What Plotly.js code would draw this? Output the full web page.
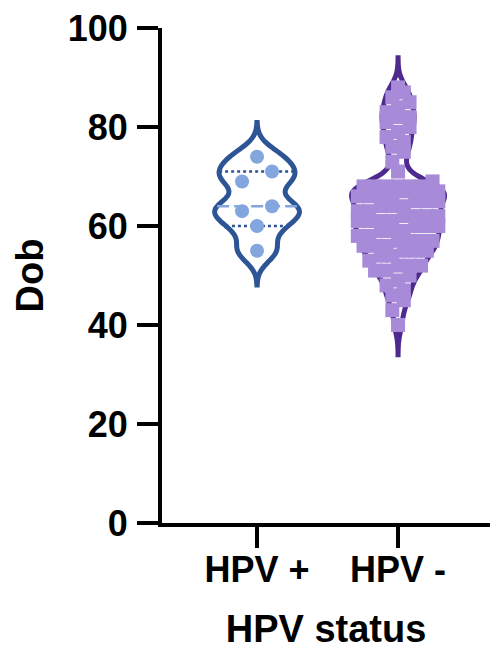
<!DOCTYPE html>
<html><head><meta charset="utf-8">
<script src="https://cdn.plot.ly/plotly-3.0.1.min.js"></script>
<style>html,body{margin:0;padding:0;background:#fff}</style>
</head><body>
<div id="chart" style="width:490px;height:650px"></div>
<script>
// ---------------- data ----------------
const categories = ['HPV +', 'HPV -'];
const yTickVals = [0, 20, 40, 60, 80, 100];
const hpvPosDob = [74, 71, 69, 64, 63, 60, 55];
const hpvNegDob = [
  88, 86, 87, 83, 84, 85, 81, 82, 82, 78, 79, 80, 76, 77, 73, 75, 71,
  68, 68, 68, 68, 68, 68, 69,
  66, 66, 66, 66, 67, 67, 67, 67,
  63, 63, 64, 64, 64, 65, 65, 65,
  61, 61, 61, 61, 62, 62, 62, 62,
  58, 58, 59, 59, 59, 60, 60, 60,
  56, 56, 56, 57, 57, 57, 57,
  53, 54, 54, 55, 55, 55,
  51, 51, 52, 52, 52,
  48, 49, 50,
  46, 47,
  43, 45,
  40
];

// ---------------- style / layout settings ----------------
const W = 490, H = 650;
const M = {l: 162, r: 0, t: 28, b: 127};
const xRange = [-0.674, 1.652];
const yRange = [0, 100];
const FONT = 'Liberation Sans, Arial, Helvetica, sans-serif';

const groups = [
  {vals: hpvPosDob, pos: 0, bw: 2.3, vwidth: 0.6, dark: '#2D5596', light: '#82A6DD',
   symbol: 'circle', msize: 14, spacing: 30, binW: 3, binAnchor: 59.5, medColor: '#82A6DD'},
  {vals: hpvNegDob, pos: 1, bw: 2.0, vwidth: 0.66, dark: '#4E2A8E', light: '#A78BD8',
   symbol: 'square', msize: 14, spacing: 11.5, binW: 2.5, binAnchor: 0.5, medColor: '#4E2A8E'}
];

const plotW = W - M.l - M.r;
const pxPerX = plotW / (xRange[1] - xRange[0]);

function kde(vals, bw, y) {
  let s = 0;
  for (const v of vals) { const z = (y - v) / bw; s += Math.exp(-0.5 * z * z); }
  return s;
}
function quantile(sorted, p) { // GraphPad-like (n+1)p rank
  const n = sorted.length;
  let r = (n + 1) * p;
  if (r < 1) r = 1; if (r > n) r = n;
  const lo = Math.floor(r), hi = Math.ceil(r);
  return sorted[lo - 1] + (r - lo) * (sorted[hi - 1] - sorted[lo - 1]);
}

const traces = [];
const lineTraces = [];
const pointTraces = [];

groups.forEach((g, gi) => {
  const mn = Math.min(...g.vals), mx = Math.max(...g.vals);
  const span = [mn - 3 * g.bw, mx + 3 * g.bw];
  traces.push({
    type: 'violin', x0: g.pos, y: g.vals, name: categories[gi],
    bandwidth: g.bw, spanmode: 'manual', span: span, width: g.vwidth,
    scalemode: 'width', points: false, fillcolor: 'white',
    line: {color: g.dark, width: 5},
    box: {visible: false}, meanline: {visible: false}, hoverinfo: 'y'
  });
  const n = Math.ceil((span[1] - span[0]) / (g.bw / 3));
  const step = (span[1] - span[0]) / n;
  let kmax = 0;
  for (let t = span[0]; t < span[1] + step / 2; t += step) kmax = Math.max(kmax, kde(g.vals, g.bw, t));
  const hw = y => (g.vwidth / 2) * kde(g.vals, g.bw, y) / kmax;

  const sorted = [...g.vals].sort((a, b) => a - b);
  const q1 = quantile(sorted, 0.25), med = quantile(sorted, 0.5), q3 = quantile(sorted, 0.75);
  [[q1, g.dark, 'dot'], [q3, g.dark, 'dot'], [med, g.medColor, '12px,5px']].forEach(([q, c, d]) => {
    const h = hw(q);
    lineTraces.push({type: 'scatter', mode: 'lines', x: [g.pos - h, g.pos + h], y: [q, q],
      line: {color: c, width: 2.5, dash: d}, hoverinfo: 'skip'});
  });

  // binned swarm layout of the points
  const bins = {};
  sorted.forEach(v => {
    const k = Math.floor((v - g.binAnchor) / g.binW);
    (bins[k] = bins[k] || []).push(v);
  });
  const px = [], py = [];
  Object.keys(bins).forEach(k => {
    const row = bins[k];
    row.forEach((v, i) => {
      const off = (i - (row.length - 1) / 2) * g.spacing / pxPerX;
      px.push(g.pos + off); py.push(v);
    });
  });
  pointTraces.push({type: 'scatter', mode: 'markers', x: px, y: py,
    marker: {symbol: g.symbol, size: g.msize, color: g.light, line: {width: 0}},
    hoverinfo: 'y'});
});

const tickFont = {family: FONT, size: 36, color: '#000', weight: 'bold'};
const titleFont = {family: FONT, size: 38, color: '#000', weight: 'bold'};

const layout = {
  width: W, height: H, margin: M, showlegend: false,
  paper_bgcolor: '#fff', plot_bgcolor: '#fff', violinmode: 'overlay',
  xaxis: {type: 'linear', range: xRange, tickvals: [0, 1], ticktext: categories,
    ticks: 'outside', ticklen: 21, tickwidth: 4, tickcolor: '#000',
    showline: true, linewidth: 4, linecolor: '#000', showgrid: false, zeroline: false,
    tickfont: tickFont, ticklabelstandoff: -9,
    title: {text: 'HPV status', font: titleFont, standoff: 30}},
  yaxis: {range: yRange, tickvals: yTickVals, ticks: 'outside', ticklen: 21, tickwidth: 4,
    tickcolor: '#000', showline: true, linewidth: 4, linecolor: '#000',
    showgrid: false, zeroline: false, tickfont: tickFont, ticklabelstandoff: 2,
    title: {text: 'Dob', font: titleFont, standoff: 13}}
};

Plotly.newPlot('chart', traces.concat(lineTraces, pointTraces), layout, {staticPlot: true});
</script>
</body></html>
